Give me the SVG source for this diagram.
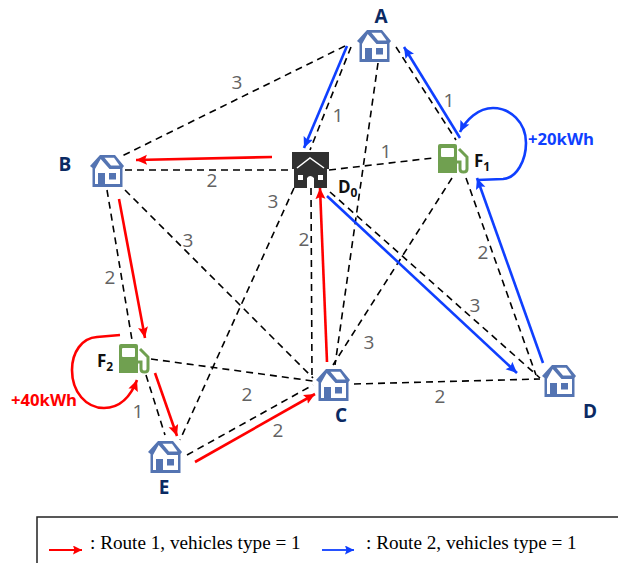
<svg xmlns="http://www.w3.org/2000/svg" width="618" height="563" viewBox="0 0 618 563">
<style>
.d{stroke:#000;stroke-width:1.6;stroke-dasharray:7 5;fill:none}
.r{stroke:#f00;stroke-width:2.6;fill:none;marker-end:url(#mr)}
.b{stroke:#0f3fff;stroke-width:2.6;fill:none;marker-end:url(#mb)}
.lr{stroke:#f00;stroke-width:1.800;fill:none;marker-end:url(#sr)}
.lb{stroke:#0f3fff;stroke-width:1.800;fill:none;marker-end:url(#sb)}
.w{font:19px "Open Sans","Liberation Sans",sans-serif;fill:#626262;text-anchor:middle}
.n{font:bold 19px "Open Sans","Liberation Sans",sans-serif;fill:#0b2a63;text-anchor:middle}
.f{font:bold 17px "Open Sans","Liberation Sans",sans-serif;fill:#111}
.s{font-size:12px}
.e{font:bold 16.700px "Open Sans","Liberation Sans",sans-serif}
.l{font:19.200px "Liberation Serif",serif;fill:#000}
</style>
<defs>
<marker id="mr" markerUnits="userSpaceOnUse" markerWidth="12" markerHeight="11" refX="11" refY="5.500" orient="auto"><path d="M0 0.500L11 5.500L0 10.500L2 5.500Z" fill="#f00"/></marker>
<marker id="mb" markerUnits="userSpaceOnUse" markerWidth="12" markerHeight="11" refX="11" refY="5.500" orient="auto"><path d="M0 0.500L11 5.500L0 10.500L2 5.500Z" fill="#0f3fff"/></marker>
<marker id="sr" markerUnits="userSpaceOnUse" markerWidth="10" markerHeight="9" refX="9" refY="4.500" orient="auto"><path d="M0 0L9 4.500L0 9L1.500 4.500Z" fill="#f00"/></marker>
<marker id="sb" markerUnits="userSpaceOnUse" markerWidth="10" markerHeight="9" refX="9" refY="4.500" orient="auto"><path d="M0 0L9 4.500L0 9L1.500 4.500Z" fill="#0f3fff"/></marker>
<g id="house">
<path d="M0 12L10 1H25L34 12L32.500 14V33H2.500V14Z" fill="#5474b2"/>
<path d="M10.700 5L19.500 15H30V30H5V15Z" fill="#fff"/>
<path d="M14.500 3.800H24L29.500 11.500H21Z" fill="#fff"/>
<path d="M8 19H15V30H8ZM19 19H26V25.500H19Z" fill="#5474b2"/>
</g>
<g id="fuel">
<path d="M1 2Q1 0 3 0H18Q20 0 20 2V29H1Z" fill="#70a050"/>
<rect x="4" y="4" width="13" height="9" rx="1" fill="#fff"/>
<path d="M22 5L30 13V25Q30 28 26.500 28Q23 28 23 25V18H20" fill="none" stroke="#70a050" stroke-width="3"/>
</g>
</defs>
<rect width="618" height="563" fill="#fff"/>
<g id="connectors">
<path class="d" d="M345 46L120 157"/>
<path class="d" d="M351 47L310 150"/>
<path class="d" d="M378 63L335 365"/>
<path class="d" d="M396 47L456 140"/>
<path class="d" d="M125 170H290"/>
<path class="d" d="M329 170L433 158"/>
<path class="d" d="M294 188L180 440"/>
<path class="d" d="M311 188L312 378"/>
<path class="d" d="M330 192L540 378"/>
<path class="d" d="M452 178L333 365"/>
<path class="d" d="M466 178L536 375"/>
<path class="d" d="M107 190L132 340"/>
<path class="d" d="M125 190L313 378"/>
<path class="d" d="M151 359L313 381"/>
<path class="d" d="M146 375L165 435"/>
<path class="d" d="M187 455L313 385"/>
<path class="d" d="M354 384L540 379"/>
<path class="r" d="M272 157L136 160"/>
<path class="r" d="M119 199L145 338"/>
<path class="r" d="M155 373L177 436"/>
<path class="r" d="M195 462L315 394"/>
<path class="r" d="M327 362L320 188"/>
<path class="b" d="M347 46L304 148"/>
<path class="b" d="M327 196L517 373"/>
<path class="b" d="M543 363L477 178"/>
<path class="b" d="M460 138L404 47"/>
<path class="b" d="M477 180L503 179C517 178 526 160 526 143C526 122 510 108 493 108C478 108 466 120 460 132"/>
<path class="r" d="M120 335L97 337C82 338 72 352 72 370C72 392 86 408 104 408C120 408 131 396 137 380"/>
</g>
<g id="node-A"><use href="#house" x="357" y="29"/><text class="n" x="381" y="23">A</text></g>
<g id="node-B"><use href="#house" x="90" y="154"/><text class="n" x="65" y="171">B</text></g>
<g id="node-C"><use href="#house" x="316" y="368"/><text class="n" x="341" y="422">C</text></g>
<g id="node-D"><use href="#house" x="542" y="364"/><text class="n" x="590" y="418">D</text></g>
<g id="node-E"><use href="#house" x="148" y="440"/><text class="n" x="164" y="494">E</text></g>
<g id="node-D0">
<rect x="292" y="152" width="37" height="17" fill="#303030"/>
<path d="M294 168L311 158L327 168V188H294Z" fill="#303030"/>
<path d="M297 168L310 158L324 168" fill="none" stroke="#fff" stroke-width="1.500"/>
<path d="M307 188V178Q310 174 314 178V188ZM298 175H303V180H298ZM318 175H323V180H318Z" fill="#fff"/>
<text class="f" x="338" y="193">D<tspan class="s" dy="4">0</tspan></text>
</g>
<g id="node-F1"><use href="#fuel" x="437" y="144"/><text class="f" x="474" y="167">F<tspan class="s" dy="4">1</tspan></text></g>
<g id="node-F2"><use href="#fuel" x="118" y="344"/><text class="f" x="97" y="367">F<tspan class="s" dy="4">2</tspan></text></g>
<g id="labels">
<text class="w" x="237" y="89">3</text>
<text class="w" x="338" y="122">1</text>
<text class="w" x="449" y="107">1</text>
<text class="w" x="386" y="158">1</text>
<text class="w" x="212" y="187">2</text>
<text class="w" x="273" y="208">3</text>
<text class="w" x="188" y="247">3</text>
<text class="w" x="304" y="246">2</text>
<text class="w" x="483" y="259">2</text>
<text class="w" x="475" y="312">3</text>
<text class="w" x="369" y="349">3</text>
<text class="w" x="110" y="284">2</text>
<text class="w" x="247" y="401">2</text>
<text class="w" x="278" y="437">2</text>
<text class="w" x="440" y="403">2</text>
<text class="w" x="138" y="418">1</text>
<text class="e" x="528" y="145" fill="#0f3fff">+20kWh</text>
<text class="e" x="11" y="406" fill="#f00">+40kWh</text>
</g>
<g id="legend">
<path d="M618 517H37V563" fill="none" stroke="#222" stroke-width="1.500"/>
<path class="lr" d="M49 550H82"/>
<text class="l" x="90" y="549">: Route 1, vehicles type = 1</text>
<path class="lb" d="M322 550H354"/>
<text class="l" x="366" y="549">: Route 2, vehicles type = 1</text>
</g>
</svg>
